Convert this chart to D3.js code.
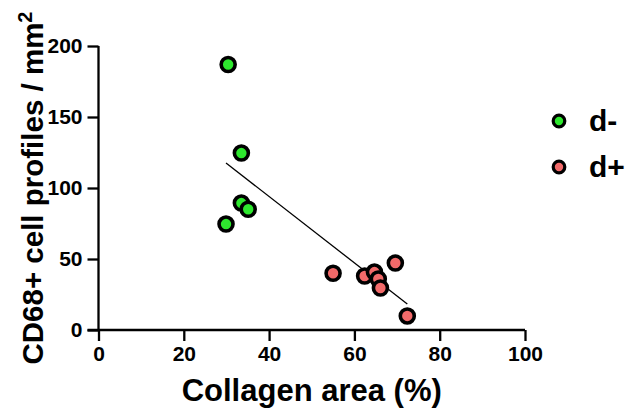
<!DOCTYPE html>
<html>
<head>
<meta charset="utf-8">
<script src="https://cdn.jsdelivr.net/npm/d3@7"></script>
<style>
  body { margin: 0; background: #fff; }
  text { font-family: "Liberation Sans", Arial, sans-serif; font-weight: bold; fill: #000; }
</style>
</head>
<body>
<div id="chart"></div>
<script>
// values
const groups = ["d-", "d+"];
const groupColors = ["#2ee82e", "#f26a6a"];
const dMinusX = [30.4, 33.5, 33.5, 35.1, 29.9];
const dMinusY = [187, 124.6, 89.4, 85, 74.6];
const dPlusX = [55, 62.4, 64.7, 65.6, 66.1, 69.6, 72.4];
const dPlusY = [40, 38, 40.8, 35.9, 29.6, 47.2, 9.9];
const fitX = [29.9, 72.4];
const fitY = [117.6, 18.3];
const xTicks = [0, 20, 40, 60, 80, 100];
const yTicks = [0, 50, 100, 150, 200];

const WIDTH = 630, HEIGHT = 413;
const MARGIN = {top: 46, right: 105, bottom: 83, left: 98.5};

const svg = d3.select("#chart")
    .append("svg")
    .attr("width", WIDTH)
    .attr("height", HEIGHT);

const x = d3.scaleLinear().domain([0, 100]).range([MARGIN.left, WIDTH - MARGIN.right]);
const y = d3.scaleLinear().domain([0, 200]).range([HEIGHT - MARGIN.bottom, MARGIN.top]);

// axes
const xAxis = svg.append("g")
    .attr("transform", "translate(0," + y(0) + ")")
    .call(d3.axisBottom(x).tickValues(xTicks).tickSize(11).tickPadding(5).tickSizeOuter(0));
const yAxis = svg.append("g")
    .attr("transform", "translate(" + x(0) + ",0)")
    .call(d3.axisLeft(y).tickValues(yTicks).tickSize(11).tickPadding(5).tickSizeOuter(0));

[xAxis, yAxis].forEach(function (g) {
    g.select(".domain").attr("stroke", "#000").attr("stroke-width", 2.3);
    g.selectAll(".tick line").attr("stroke", "#000").attr("stroke-width", 2.3);
    g.selectAll(".tick text")
        .style("font-family", "'Liberation Sans', Arial, sans-serif")
        .style("font-weight", "bold")
        .style("font-size", "21px")
        .attr("fill", "#000");
});
// extend lines so that the corner joins
xAxis.select(".domain").attr("d", "M" + (x(0) - 11) + ",0H" + x(100));
yAxis.select(".domain").attr("d", "M0," + y(0) + "V" + y(200));

// regression line
svg.append("path")
    .datum(d3.zip(fitX, fitY))
    .attr("fill", "none")
    .attr("stroke", "#000")
    .attr("stroke-width", 1.3)
    .attr("d", d3.line().x(d => x(d[0])).y(d => y(d[1])));

// points
const series = [d3.zip(dMinusX, dMinusY), d3.zip(dPlusX, dPlusY)];
series.forEach(function (pts, i) {
    svg.append("g")
        .selectAll("circle")
        .data(pts)
        .enter()
        .append("circle")
        .attr("cx", d => x(d[0]))
        .attr("cy", d => y(d[1]))
        .attr("r", 7)
        .attr("fill", groupColors[i])
        .attr("stroke", "#000")
        .attr("stroke-width", 3.6);
});

// legend
const legend = svg.append("g").attr("transform", "translate(559,121)");
groups.forEach(function (name, i) {
    const row = legend.append("g").attr("transform", "translate(0," + i * 46 + ")");
    row.append("circle")
        .attr("r", 5.8)
        .attr("fill", groupColors[i])
        .attr("stroke", "#000")
        .attr("stroke-width", 3.2);
    row.append("text")
        .attr("x", 30)
        .attr("y", 10)
        .style("font-size", "30px")
        .text(name);
});

// axis titles
svg.append("text")
    .attr("x", (x(0) + x(100)) / 2)
    .attr("y", 401)
    .attr("text-anchor", "middle")
    .style("font-size", "31px")
    .text("Collagen area (%)");

svg.append("text")
    .attr("transform", "translate(43," + 188 + ") rotate(-90)")
    .attr("text-anchor", "middle")
    .style("font-size", "29.5px")
    .text("CD68+ cell profiles / mm")
    .append("tspan")
    .attr("dy", -11)
    .style("font-size", "20px")
    .text("2");
</script>
</body>
</html>
